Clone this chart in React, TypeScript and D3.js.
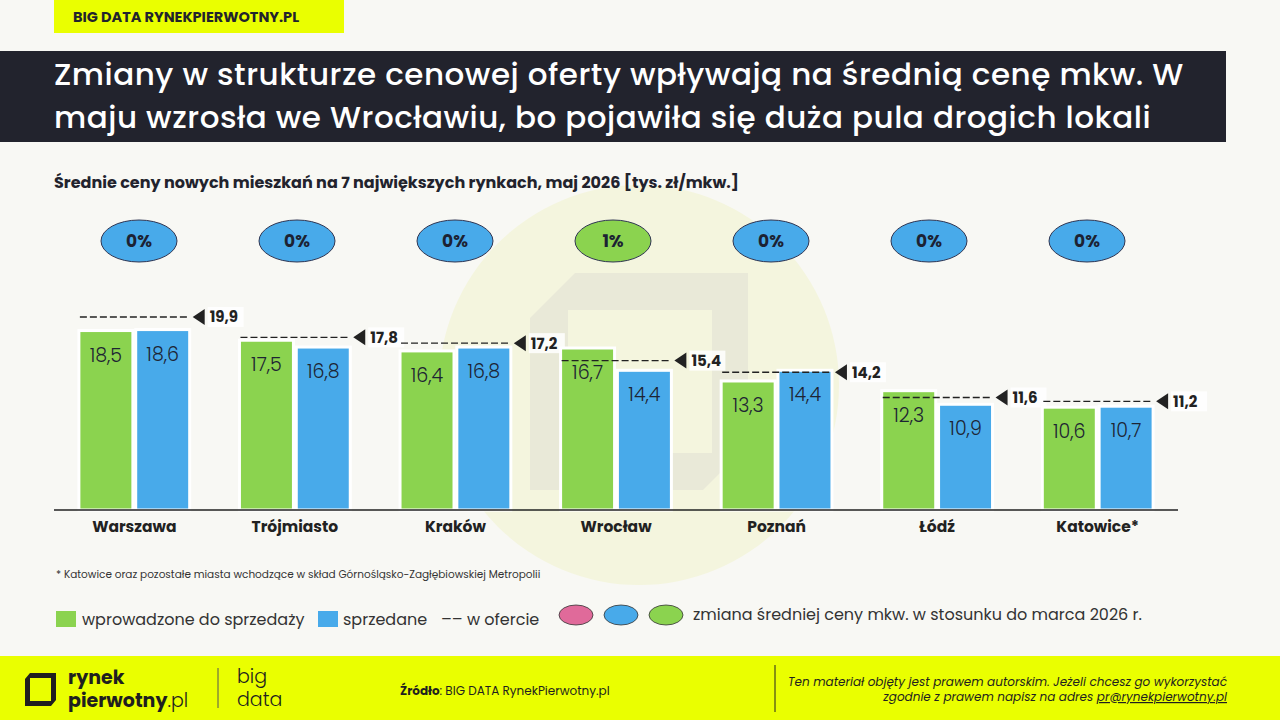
import React, {useEffect, useRef} from 'react';
import * as d3 from 'd3';

// cities and prices (tys. zł/mkw.), maj 2026
const cities: string[] = ["Warszawa", "Trójmiasto", "Kraków", "Wrocław", "Poznań", "Łódź", "Katowice*"];
const introduced: number[] = [18.5, 17.5, 16.4, 16.7, 13.3, 12.3, 10.6];
const sold: number[] = [18.6, 16.8, 16.8, 14.4, 14.4, 10.9, 10.7];
const onOffer: number[] = [19.9, 17.8, 17.2, 15.4, 14.2, 11.6, 11.2];
// change of the average price vs March, in %
const priceChange: number[] = [0, 0, 0, 1, 0, 0, 0];

const seriesKeys: string[] = ["introduced", "sold"];

const fmt = (v: number) => v.toFixed(1).replace(".", ",");

const App = () => {
  const ref = useRef<SVGSVGElement | null>(null);

  useEffect(() => {
    drawChart();
    return () => {
      if (ref.current) d3.select(ref.current).selectAll("*").remove();
    };
  }, []);

  const drawChart = () => {
    const W = 1280;
    const H = 720;
    const font = "Poppins, 'Open Sans', sans-serif";
    const yellow = "#eaff00";
    const dark = "#22232d";
    const green = "#8bd34f";
    const blue = "#48aaea";

    const svg = d3.select(ref.current)
      .attr("width", W)
      .attr("height", H)
      .style("font-family", font);

    svg.append("rect").attr("width", W).attr("height", H).attr("fill", "#f8f8f4");

    // watermark: pale circle with the logo square
    svg.append("circle").attr("cx", 639).attr("cy", 385).attr("r", 200).attr("fill", "#f4f5de");
    svg.append("path")
      .attr("d", "M575,273 L748,273 L748,445 L703,490 L530,490 L530,318 Z M568,310 L712,310 L712,453 L568,453 Z")
      .attr("fill", "#e9e9d8")
      .attr("fill-rule", "evenodd");

    // top tag
    svg.append("rect").attr("x", 54).attr("y", 0).attr("width", 290).attr("height", 33).attr("fill", yellow);
    svg.append("text")
      .attr("x", 73).attr("y", 22)
      .attr("font-size", 14.5).attr("font-weight", 700).attr("fill", dark)
      .text("BIG DATA RYNEKPIERWOTNY.PL");

    // title band
    svg.append("rect").attr("x", 0).attr("y", 51).attr("width", 1226).attr("height", 91).attr("fill", dark);
    const titleLines = [
      "Zmiany w strukturze cenowej oferty wpływają na średnią cenę mkw. W",
      "maju wzrosła we Wrocławiu, bo pojawiła się duża pula drogich lokali"
    ];
    svg.selectAll(".title")
      .data(titleLines)
      .enter().append("text")
      .attr("class", "title")
      .attr("x", 54)
      .attr("y", (d, i) => 85 + i * 43)
      .attr("font-size", 31)
      .attr("font-weight", 500)
      .attr("letter-spacing", 0.5)
      .attr("fill", "#ffffff")
      .text(d => d);

    svg.append("text")
      .attr("x", 54).attr("y", 188)
      .attr("font-size", 16).attr("font-weight", 700).attr("fill", dark)
      .text("Średnie ceny nowych mieszkań na 7 największych rynkach, maj 2026 [tys. zł/mkw.]");

    // scales
    const baseY = 510;
    const x = d3.scaleBand<string>()
      .domain(cities)
      .range([54, 1178])
      .paddingInner(0.31)
      .paddingOuter(0.155);
    const x1 = d3.scaleBand<string>()
      .domain(seriesKeys)
      .range([0, x.bandwidth()])
      .paddingInner(0.05);
    const y = d3.scaleLinear().domain([0, 20]).range([baseY, 316]);
    // the change badges sit on their own, slightly tighter row
    const xBadge = d3.scalePoint<string>().domain(cities).range([139, 1087]);

    const rows = cities.map((c, i) => ({
      city: c,
      introduced: introduced[i],
      sold: sold[i],
      offer: onOffer[i],
      change: priceChange[i]
    }));

    const groups = svg.selectAll(".group")
      .data(rows)
      .enter().append("g")
      .attr("class", "group")
      .attr("transform", d => `translate(${x(d.city)},0)`);

    const bars = groups.selectAll(".bar")
      .data(d => seriesKeys.map(k => ({key: k, value: (d as any)[k] as number})))
      .enter().append("g")
      .attr("class", "bar");

    bars.append("rect")
      .attr("x", d => x1(d.key)!)
      .attr("y", d => y(d.value))
      .attr("width", x1.bandwidth())
      .attr("height", d => baseY - y(d.value))
      .attr("fill", d => d.key === "introduced" ? green : blue)
      .attr("stroke", "#ffffff")
      .attr("stroke-width", 3);

    bars.append("text")
      .attr("x", d => x1(d.key)! + x1.bandwidth() / 2)
      .attr("y", d => y(d.value) + 31)
      .attr("text-anchor", "middle")
      .attr("font-size", 19)
      .attr("font-weight", 300)
      .attr("fill", "#1d2433")
      .text(d => fmt(d.value));

    // "w ofercie" dashed markers
    const bw = x.bandwidth();
    groups.append("line")
      .attr("x1", 1)
      .attr("x2", bw - 2)
      .attr("y1", d => y(d.offer))
      .attr("y2", d => y(d.offer))
      .attr("stroke", "#222")
      .attr("stroke-width", 1.4)
      .attr("stroke-dasharray", "7,3");

    groups.append("path")
      .attr("d", d => {
        const yy = y(d.offer);
        return `M${bw + 3},${yy} L${bw + 15},${yy - 8} L${bw + 15},${yy + 8} Z`;
      })
      .attr("fill", "#222");

    groups.append("rect")
      .attr("x", bw + 18)
      .attr("y", d => y(d.offer) - 10)
      .attr("width", 36)
      .attr("height", 20)
      .attr("fill", "#ffffff")
      .attr("opacity", 0.85);

    groups.append("text")
      .attr("x", bw + 20)
      .attr("y", d => y(d.offer) + 5.5)
      .attr("font-size", 15)
      .attr("font-weight", 700)
      .attr("fill", "#222")
      .text(d => fmt(d.offer));

    // price change ellipses
    const changeColor = (v: number) => v > 0 ? green : (v < 0 ? "#e06a9a" : blue);
    const badges = svg.selectAll(".badge")
      .data(rows)
      .enter().append("g")
      .attr("class", "badge")
      .attr("transform", d => `translate(${xBadge(d.city)},241)`);

    badges.append("ellipse")
      .attr("rx", 38)
      .attr("ry", 21)
      .attr("fill", d => changeColor(d.change))
      .attr("stroke", "#2f3552")
      .attr("stroke-width", 1);

    badges.append("text")
      .attr("y", 6)
      .attr("text-anchor", "middle")
      .attr("font-size", 17)
      .attr("font-weight", 700)
      .attr("fill", "#1c2233")
      .text(d => `${d.change}%`);

    // axis line and city labels
    svg.append("line")
      .attr("x1", 54).attr("x2", 1178)
      .attr("y1", baseY).attr("y2", baseY)
      .attr("stroke", "#222").attr("stroke-width", 1.3);

    svg.selectAll(".city")
      .data(cities)
      .enter().append("text")
      .attr("class", "city")
      .attr("x", d => x(d)! + bw / 2)
      .attr("y", 532)
      .attr("text-anchor", "middle")
      .attr("font-size", 15.5)
      .attr("font-weight", 700)
      .attr("fill", "#222")
      .text(d => d);

    svg.append("text")
      .attr("x", 56).attr("y", 578)
      .attr("font-size", 10.5).attr("fill", "#333")
      .text("* Katowice oraz pozostałe miasta wchodzące w skład Górnośląsko-Zagłębiowskiej Metropolii");

    // legend
    const leg = svg.append("g").attr("font-size", 16).attr("fill", "#333");
    leg.append("rect").attr("x", 56).attr("y", 611).attr("width", 20).attr("height", 16).attr("fill", green);
    leg.append("text").attr("x", 82).attr("y", 625).text("wprowadzone do sprzedaży");
    leg.append("rect").attr("x", 318).attr("y", 611).attr("width", 20).attr("height", 16).attr("fill", blue);
    leg.append("text").attr("x", 343).attr("y", 625).text("sprzedane");
    leg.append("text").attr("x", 441).attr("y", 625).text("–– w ofercie");
    [["#e06a9a", 576], [blue, 621], [green, 666]].forEach(([c, cx]) => {
      leg.append("ellipse")
        .attr("cx", cx as number).attr("cy", 615)
        .attr("rx", 17).attr("ry", 10)
        .attr("fill", c as string)
        .attr("stroke", "#333").attr("stroke-width", 0.8);
    });
    leg.append("text").attr("x", 693).attr("y", 620).text("zmiana średniej ceny mkw. w stosunku do marca 2026 r.");

    // footer
    const ft = svg.append("g");
    ft.append("rect").attr("x", 0).attr("y", 656).attr("width", W).attr("height", 64).attr("fill", yellow);
    ft.append("path")
      .attr("d", "M30,673 L56,673 L56,700 L51,706 L25,706 L25,679 Z M30,678 L51,678 L51,701 L30,701 Z")
      .attr("fill", "#1f1f1f")
      .attr("fill-rule", "evenodd");

    // two-line logo words, each block as a single text
    const brand = ft.append("text").attr("font-size", 19).attr("fill", "#1f1f1f");
    brand.append("tspan").attr("x", 68).attr("y", 684).attr("font-weight", 700).text("rynek");
    brand.append("tspan").attr("x", 68).attr("y", 707).attr("font-weight", 700).text("pierwotny");
    brand.append("tspan").attr("font-weight", 300).text(".pl");

    ft.append("line").attr("x1", 218).attr("x2", 218).attr("y1", 668).attr("y2", 708).attr("stroke", "#555").attr("stroke-width", 1);
    const bigData = ft.append("text").attr("font-size", 19).attr("font-weight", 300).attr("fill", "#1f1f1f");
    bigData.append("tspan").attr("x", 237).attr("y", 683).text("big");
    bigData.append("tspan").attr("x", 237).attr("y", 706).text("data");

    const src = ft.append("text").attr("x", 400).attr("y", 695).attr("font-size", 12).attr("fill", "#1f1f1f");
    src.append("tspan").attr("font-weight", 700).text("Źródło");
    src.append("tspan").text(": BIG DATA RynekPierwotny.pl");

    ft.append("line").attr("x1", 775).attr("x2", 775).attr("y1", 665).attr("y2", 712).attr("stroke", "#222").attr("stroke-width", 1);
    ft.append("text")
      .attr("x", 1227).attr("y", 686)
      .attr("text-anchor", "end").attr("font-size", 12).attr("font-style", "italic").attr("fill", "#1f1f1f")
      .text("Ten materiał objęty jest prawem autorskim. Jeżeli chcesz go wykorzystać");
    const mail = ft.append("text")
      .attr("x", 1227).attr("y", 701)
      .attr("text-anchor", "end").attr("font-size", 12).attr("font-style", "italic").attr("fill", "#1f1f1f");
    mail.append("tspan").text("zgodnie z prawem napisz na adres ");
    mail.append("tspan").attr("text-decoration", "underline").text("pr@rynekpierwotny.pl");
  };

  return (
    <div style={{position: "absolute", left: 0, top: 0}}>
      <svg ref={ref}></svg>
    </div>
  );
};

export default App;
